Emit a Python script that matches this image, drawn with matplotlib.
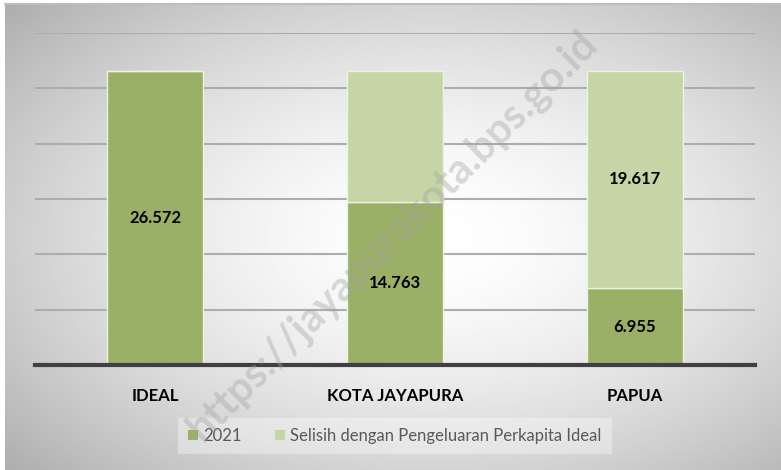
import numpy as np
import matplotlib.pyplot as plt
from matplotlib.patches import Patch

# data
categories = ['IDEAL', 'KOTA JAYAPURA', 'PAPUA']
val_2021 = [26.572, 14.763, 6.955]
selisih = [0, 11.809, 19.617]
label_2021 = ['26.572', '14.763', '6.955']
label_selisih = ['', '', '19.617']
legend_names = ['2021', 'Selisih dengan Pengeluaran Perkapita Ideal']

dark = '#9AB066'
light = '#C5D5A6'

plt.rcParams['font.family'] = ['Lato', 'DejaVu Sans']

fig = plt.figure(figsize=(7.81, 4.70), dpi=100)

# radial gradient background
bg = fig.add_axes([5 / 781, 0, 776 / 781, 466 / 470])
ny, nx = 300, 500
yy, xx = np.mgrid[0:ny, 0:nx]
cx, cy = 0.55 * nx, 0.5 * ny
r = np.sqrt(((xx - cx) / (0.62 * nx)) ** 2 + ((yy - cy) / (0.62 * ny)) ** 2)
shade = 1.0 - 0.24 * np.clip(r, 0, 1.25) ** 1.6
bg.imshow(shade, cmap='gray', vmin=0, vmax=1, aspect='auto', extent=[0, 1, 0, 1])
bg.plot([0, 1], [1, 1], color='#bdbdbd', lw=1.5, transform=bg.transAxes, clip_on=False)
bg.axis('off')

ax = fig.add_axes([35 / 781, 105 / 470, 720 / 781, 332 / 470])
ax.patch.set_alpha(0)
x = np.arange(len(categories))
ax.bar(x, val_2021, width=0.4, color=dark, edgecolor='#eef2e4', linewidth=1, zorder=3)
ax.bar(x, selisih, width=0.4, bottom=val_2021, color=light, edgecolor='#eef2e4', linewidth=1, zorder=3)

for i in range(len(categories)):
    ax.text(x[i], val_2021[i] / 2, label_2021[i], ha='center', va='center',
            fontsize=12, fontweight='bold', color='black', zorder=5)
    if label_selisih[i]:
        ax.text(x[i], val_2021[i] + selisih[i] / 2, label_selisih[i], ha='center', va='center',
                fontsize=12, fontweight='bold', color='black', zorder=5)

ax.set_xlim(-0.5, 2.5)
ax.set_ylim(0, 30)
ax.set_yticks(np.arange(5, 31, 5))
ax.yaxis.grid(True, color='#adadad', linewidth=1.5, zorder=1)
ax.set_axisbelow(True)
ax.tick_params(left=False, labelleft=False, bottom=False)
ax.set_xticks(x)
ax.set_xticklabels(categories, fontsize=12, fontweight='bold')
ax.tick_params(axis='x', pad=13)
for s in ['top', 'right', 'left']:
    ax.spines[s].set_visible(False)
ax.spines['bottom'].set_color('#404040')
ax.spines['bottom'].set_linewidth(3)
ax.spines['bottom'].set_zorder(4)

handles = [Patch(facecolor=dark), Patch(facecolor=light)]
leg = fig.legend(handles, legend_names, loc='center', bbox_to_anchor=(395 / 781, 1 - 436 / 470),
                 ncol=2, frameon=True, fontsize=12, handlelength=0.6, handleheight=0.6,
                 handletextpad=0.3, columnspacing=2.0, borderpad=0.6, fancybox=False)
leg.get_frame().set_facecolor('white')
leg.get_frame().set_alpha(0.35)
leg.get_frame().set_edgecolor('none')
for t in leg.get_texts():
    t.set_color('#595959')

# watermark
fig.text(392 / 781, 1 - 236 / 470, 'https://jayapurakota.bps.go.id', rotation=45,
         ha='center', va='center', fontsize=30, fontweight='bold', color='#a0a0a0', alpha=0.38, zorder=10)

fig.savefig('out.png', dpi=100)
